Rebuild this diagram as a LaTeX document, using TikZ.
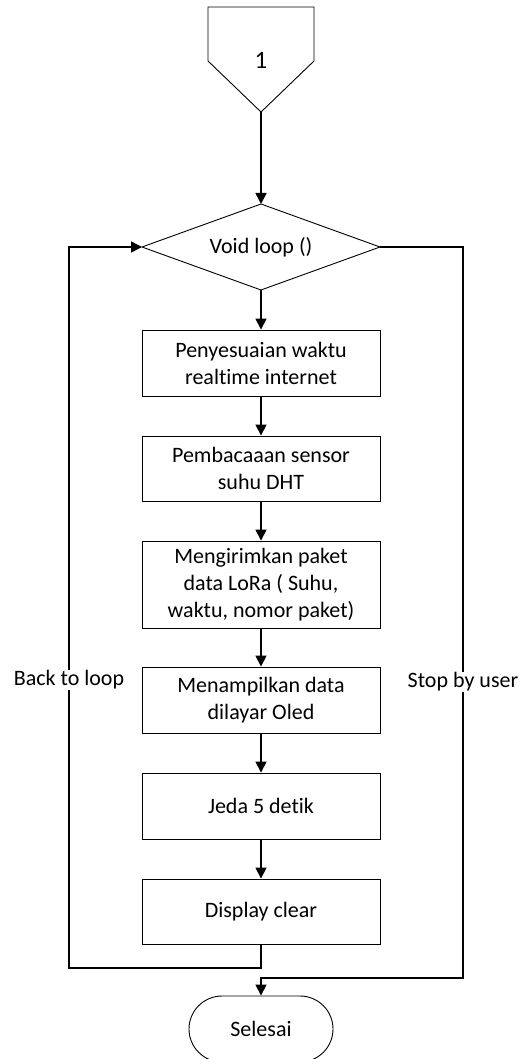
\documentclass[tikz,border=0pt]{standalone}
\usepackage{fontspec}
\setmainfont{Carlito}[Ligatures=NoCommon]
\usetikzlibrary{shapes.geometric,shapes.misc,arrows.meta}
\begin{document}
\begin{tikzpicture}[x=1pt,y=-1pt,
  every node/.style={font=\fontsize{22}{27}\selectfont},
  procbox/.style={draw,line width=0.9pt,minimum width=238pt,minimum height=#1,align=center,inner sep=0pt},
  conn/.style={line width=1.6pt,-{Triangle[length=11pt,width=11pt]}},
  lbl/.style={fill=white,inner sep=1pt}]
\useasboundingbox (0,0) rectangle (521,1059);
% off-page connector
\draw[line width=0.9pt] (208,7) -- (314,7) -- (314,61) -- (261,112) -- (208,61) -- cycle;
\node[font=\fontsize{25}{30}\selectfont] (one) at (261,60) {1};
\coordinate (c1) at (261,112);
% decision
\node[draw,line width=0.9pt,shape=diamond,shape aspect=2.77,minimum width=238pt,minimum height=86pt,inner sep=0pt,outer sep=0pt] (dec) at (261,247) {Void loop ()};
% process boxes
\node[procbox=66pt] (b1) at (261,363) {Penyesuaian waktu\\realtime internet};
\node[procbox=65pt] (b2) at (261,468.5) {Pembacaaan sensor\\suhu DHT};
\node[procbox=87pt] (b3) at (261,584.5) {Mengirimkan paket\\data LoRa ( Suhu,\\waktu, nomor paket)};
\node[procbox=66pt] (b4) at (261,700) {Menampilkan data\\dilayar Oled};
\node[procbox=66pt] (b5) at (261,806) {Jeda 5 detik};
\node[procbox=65pt] (b6) at (261,911.5) {Display clear};
% terminator
\node[draw,line width=0.9pt,shape=rounded rectangle,minimum width=144pt,minimum height=66pt,inner sep=0pt] (end) at (261,1029) {Selesai};
% connectors
\draw[conn] (c1) -- (dec.north);
\draw[conn] (dec.south) -- (b1.north);
\draw[conn] (b1) -- (b2);
\draw[conn] (b2) -- (b3);
\draw[conn] (b3) -- (b4);
\draw[conn] (b4) -- (b5);
\draw[conn] (b5) -- (b6);
\coordinate (lb) at (69,968);
\coordinate (rb) at (463,978);
\draw[conn] (b6.south) |- (lb) |- (dec.west);
\draw[conn] (dec.east) -| (rb) -| (end.north);
\node[lbl] (back) at (69,680) {Back to loop};
\node[lbl] (stop) at (463,682) {Stop by user};
\end{tikzpicture}
\end{document}
